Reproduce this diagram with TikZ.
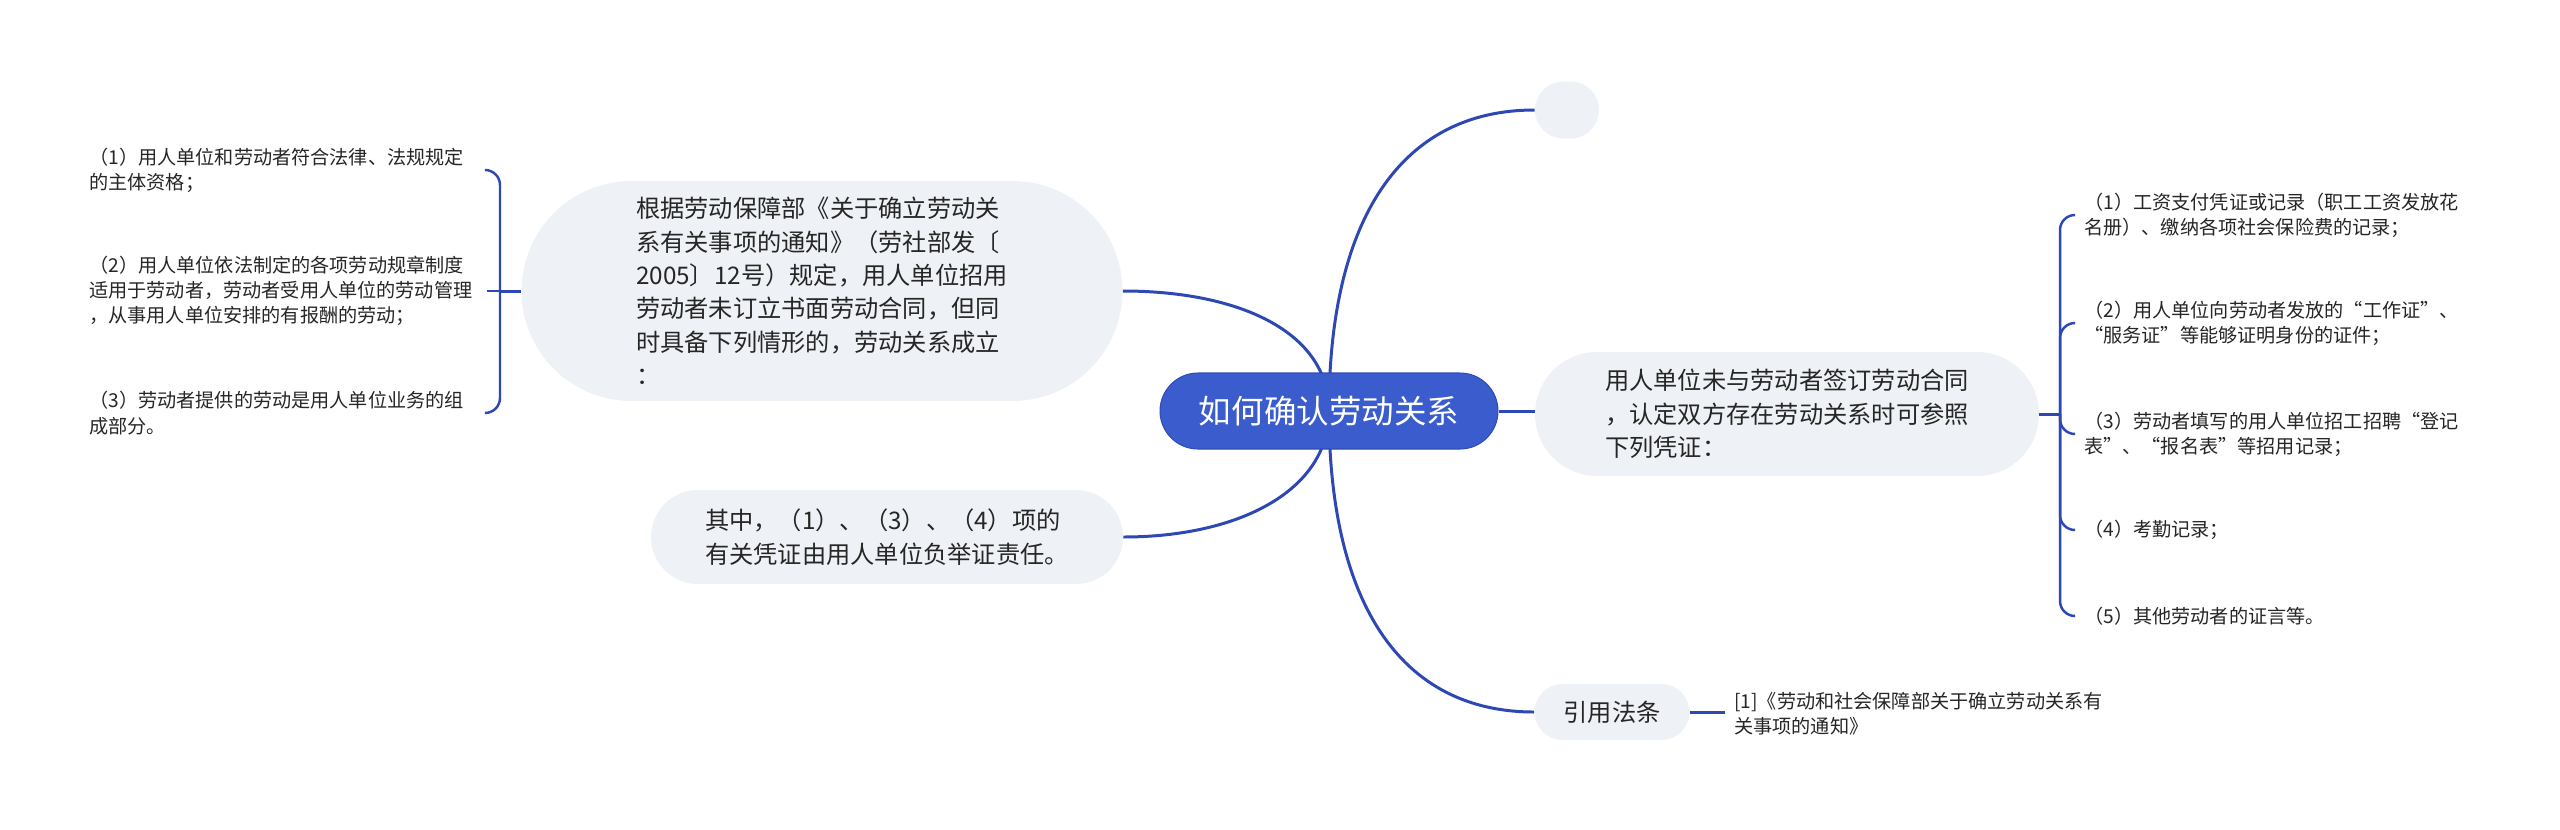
\documentclass[tikz,border=0pt]{standalone}
\usepackage{fontspec}
\setmainfont{Noto Sans CJK SC}
\definecolor{RootFill}{HTML}{3A5CCC}
\definecolor{RootLine}{HTML}{2F4DB8}
\definecolor{TopicFill}{HTML}{EEF1F5}
\definecolor{BranchLine}{HTML}{2D48B5}
\definecolor{InkText}{HTML}{262626}
\usepackage{tikz}
\usetikzlibrary{positioning, backgrounds, calc}

\begin{document}
\begin{tikzpicture}[
  x=0.02cm, y=-0.02cm,
  every node/.style={text=InkText},
  root/.style={
    rectangle, rounded corners=0.76cm,
    draw=RootLine, line width=0.6pt, fill=RootFill,
    minimum width=6.76cm, minimum height=1.52cm,
    text=white, font=\fontsize{18.5pt}{22pt}\selectfont},
  topic/.style={
    rectangle, fill=TopicFill, align=left, inner sep=0pt,
    font=\fontsize{13.8pt}{19pt}\selectfont},
  leaf/.style={
    rectangle, align=left, text width=221pt,
    inner xsep=0.18cm, inner ysep=2pt,
    font=\fontsize{10.9pt}{14.4pt}\selectfont},
  branch/.style={draw=BranchLine, line width=1.7pt},
  twig/.style={draw=BranchLine, line width=1.4pt, rounded corners=0.3cm},
]
\useasboundingbox (0,0) rectangle (2560,829);

\node[root] (root) at (1329,411) {如何确认劳动关系};

\node[topic, rounded corners=0.57cm, minimum width=1.28cm, minimum height=1.14cm]
  (blank) at (1567,110) {};

\node[topic, rounded corners=2.2cm, minimum width=12.02cm, minimum height=4.4cm]
  (basis) at (822,291)
  {根据劳动保障部《关于确立劳动关\\系有关事项的通知》（劳社部发〔\\2005〕12号）规定，用人单位招用\\劳动者未订立书面劳动合同，但同\\时具备下列情形的，劳动关系成立\\：};

\node[topic, rounded corners=0.94cm, minimum width=9.44cm, minimum height=1.88cm]
  (burden) at (887,537)
  {其中，（1）、（3）、（4）项的\\有关凭证由用人单位负举证责任。};

\node[topic, rounded corners=1.24cm, minimum width=10.08cm, minimum height=2.48cm]
  (proof) at (1787,414)
  {用人单位未与劳动者签订劳动合同\\，认定双方存在劳动关系时可参照\\下列凭证：};

\node[topic, rounded corners=0.56cm, minimum width=3.1cm, minimum height=1.12cm]
  (cite) at (1612,712) {引用法条};

\node[leaf, anchor=east] (l1) at (487,170)
  {（1）用人单位和劳动者符合法律、法规规定\\的主体资格；};
\node[leaf, anchor=east] (l2) at (487,291)
  {（2）用人单位依法制定的各项劳动规章制度\\适用于劳动者，劳动者受用人单位的劳动管理\\，从事用人单位安排的有报酬的劳动；};
\node[leaf, anchor=east] (l3) at (487,413)
  {（3）劳动者提供的劳动是用人单位业务的组\\成部分。};

\node[leaf, anchor=west] (r1) at (2075,215)
  {（1）工资支付凭证或记录（职工工资发放花\\名册）、缴纳各项社会保险费的记录；};
\node[leaf, anchor=west] (r2) at (2075,323)
  {（2）用人单位向劳动者发放的“工作证”、\\“服务证”等能够证明身份的证件；};
\node[leaf, anchor=west] (r3) at (2075,434)
  {（3）劳动者填写的用人单位招工招聘“登记\\表”、“报名表”等招用记录；};
\node[leaf, anchor=west] (r4) at (2075,530)
  {（4）考勤记录；};
\node[leaf, anchor=west] (r5) at (2075,616)
  {（5）其他劳动者的证言等。};

\node[leaf, anchor=west, text width=230pt] (citetext) at (1725,714)
  {[1]《劳动和社会保障部关于确立劳动关系有\\关事项的通知》};

\coordinate (lfork) at (500,291);
\coordinate (rfork) at (2060,414);

\begin{scope}[on background layer]
  \fill[white] (0,0) rectangle (2560,829);
  \draw[branch] (root.center) .. controls +(0,-190) and +(-135,0) .. (blank.west);
  \draw[branch] (root.center) .. controls +(0,-80) and +(115,0) .. (basis.east);
  \draw[branch] (root.center) .. controls +(0,80) and +(115,0) .. (burden.east);
  \draw[branch] (root.center) .. controls +(0,190) and +(-135,0) .. (cite.west);
  \draw[branch] (root.east) -- (root.east -| proof.west);
  \draw[branch] (cite.east) -- (cite.east -| citetext.west);

  \draw[branch] (basis.west) -- (lfork);
  \draw[twig] (lfork) |- (l1.east);
  \draw[twig] (lfork) -- (l2.east);
  \draw[twig] (lfork) |- (l3.east);

  \draw[branch] (proof.east) -- (rfork);
  \foreach \leafname in {r1,r2,r3,r4,r5}
    \draw[twig] (rfork) |- (\leafname.west);
\end{scope}

\end{tikzpicture}
\end{document}
